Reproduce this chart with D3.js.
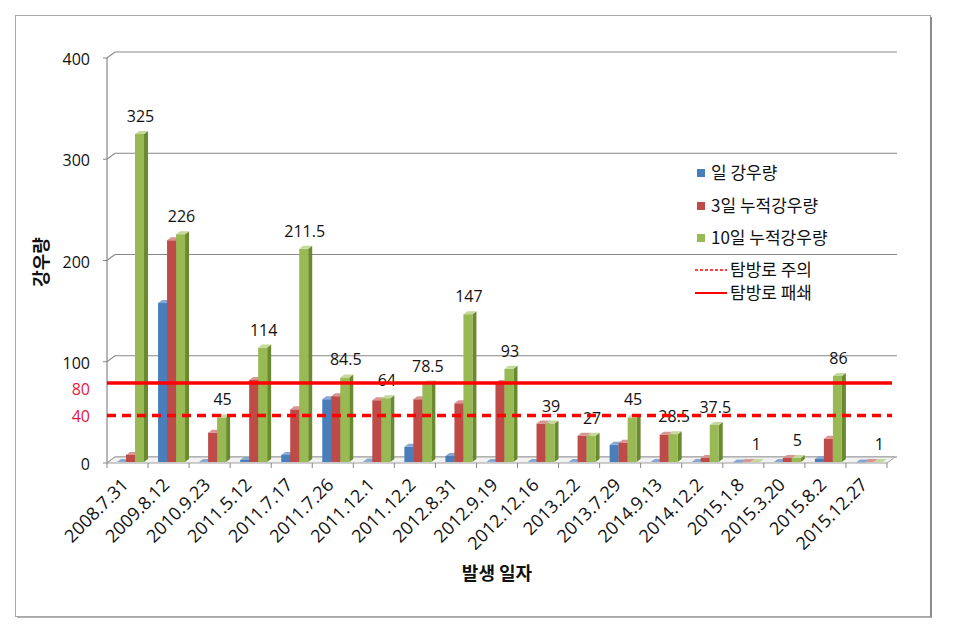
<!DOCTYPE html>
<html><head><meta charset="utf-8">
<script src="https://cdn.jsdelivr.net/npm/d3@7/dist/d3.min.js"></script>
<style>
body{margin:0;background:#fff;}
text{font-family:"Open Sans","Noto Sans CJK KR",sans-serif;}
.kr{font-family:"Noto Sans CJK KR","Open Sans",sans-serif;}
</style></head>
<body><svg id="c" width="972" height="634"></svg>
<script>
const categories = ["2008.7.31","2009.8.12","2010.9.23","2011.5.12","2011.7.17","2011.7.26","2011.12.1","2011.12.2","2012.8.31","2012.9.19","2012.12.16","2013.2.2","2013.7.29","2014.9.13","2014.12.2","2015.1.8","2015.3.20","2015.8.2","2015.12.27"];
const daily = [1,158,1,3,8,63,1.5,16,7,1,1,1,18,1,1,0.5,1,4,0.5];
const cum3  = [8,220,30,82,53,66,62,63,59,79,39,27,20,28,5,1,5,24,1];
const cum10 = [325,226,45,114,211.5,84.5,64,78.5,147,93,39,27,45,28.5,37.5,1,5,86,1];
const seriesNames = ["일 강우량","3일 누적강우량","10일 누적강우량"];
const yTicks = [0,100,200,300,400];
const refLines = [{value:80,name:"탐방로 패쇄",dashed:false},{value:40,name:"탐방로 주의",dashed:true}];
const xTitle = "발생 일자";
const yTitle = "강우량";

const svg = d3.select("#c");
const colors = [
  {front:"#4a7ebb", side:"#2d5a8e", top:"#86a8d3"},
  {front:"#be4b48", side:"#8a302e", top:"#d99593"},
  {front:"#98b954", side:"#6a8a30", top:"#c5d99c"}
];
const L=107,R=887, D={x:8,y:-6};
const x = d3.scaleBand().domain(categories).range([L,R]);
const y = d3.scaleLinear().domain([0,400]).range([463,58]);
const yBack = v => y(v)+D.y;
const inner = d3.scaleBand().domain([0,1,2]).range([10,37]);

svg.append("rect").attr("x",15.5).attr("y",15.5).attr("width",915).attr("height",601)
  .attr("fill","#fff").attr("stroke","#a8a8a8");
svg.append("line").attr("x1",931).attr("x2",931).attr("y1",17).attr("y2",618).attr("stroke","#8c8c8c").attr("stroke-width",2);
svg.append("line").attr("x1",17).attr("x2",932).attr("y1",617.5).attr("y2",617.5).attr("stroke","#b0b0b0").attr("stroke-width",1);

const g = svg.append("g");
yTicks.forEach(t=>{
  g.append("path").attr("d",`M${L-4},${y(t)}L${L},${y(t)}L${L+D.x},${yBack(t)}L${R+D.x+2},${yBack(t)}`)
   .attr("fill","none").attr("stroke","#878787").attr("stroke-width",1.2);
});
g.append("line").attr("x1",L).attr("x2",L).attr("y1",y(400)).attr("y2",y(0)).attr("stroke","#878787").attr("stroke-width",1.2);
g.append("path").attr("d",`M${L},${y(0)}L${R},${y(0)}L${R+D.x},${yBack(0)}L${L+D.x},${yBack(0)}Z`)
  .attr("fill","#f2f2f2").attr("stroke","#a0a0a0").attr("stroke-width",1);
d3.range(categories.length+1).forEach(i=>{
  const xx = L + i*x.bandwidth();
  g.append("line").attr("x1",xx).attr("x2",xx).attr("y1",y(0)).attr("y2",y(0)+5).attr("stroke","#878787");
});

const data=[daily,cum3,cum10];
const bw = inner.bandwidth(), bd={x:4,y:-3};
categories.forEach((c,i)=>{
  data.forEach((arr,s)=>{
    const v=arr[i], x0=x(c)+inner(s), yt=y(v), yb=y(0)-1;
    const col=colors[s];
    const bg=svg.append("g");
    bg.append("path").attr("d",`M${x0+bw},${yt}L${x0+bw+bd.x},${yt+bd.y}L${x0+bw+bd.x},${yb+bd.y}L${x0+bw},${yb}Z`).attr("fill",col.side);
    bg.append("rect").attr("x",x0).attr("y",yt).attr("width",bw).attr("height",Math.max(0,yb-yt)).attr("fill",col.front);
    bg.append("path").attr("d",`M${x0},${yt}L${x0+bw},${yt}L${x0+bw+bd.x},${yt+bd.y}L${x0+bd.x},${yt+bd.y}Z`).attr("fill",col.top);
  });
  svg.append("text").attr("x",x(c)+inner(2)+bw/2+1).attr("y",y(cum10[i])-12)
    .attr("text-anchor","middle").attr("font-size",16).attr("fill","#111").text(cum10[i]);
});

refLines.forEach(r=>{
  const yy = r.dashed ? yBack(r.value)-1 : y(r.value)+1;
  svg.append("line").attr("x1",L).attr("x2",R+5).attr("y1",yy).attr("y2",yy)
    .attr("stroke","#ff0000").attr("stroke-width",3.5)
    .attr("stroke-dasharray",r.dashed?"9,6":null);
  svg.append("text").attr("x",90).attr("y",yy+(r.dashed?6:12)).attr("text-anchor","end")
    .attr("font-size",16).attr("fill","#e5173f").text(r.value);
});

yTicks.forEach(t=>{
  svg.append("text").attr("x",90).attr("y",y(t)+7).attr("text-anchor","end")
    .attr("font-size",16).attr("fill","#111").text(t);
});

categories.forEach(c=>{
  const cx = x(c)+x.bandwidth()/2+2, cy=486;
  svg.append("text").attr("transform",`translate(${cx},${cy}) rotate(-45)`)
    .attr("text-anchor","end").attr("font-size",18).attr("font-weight",500).attr("fill","#111").text(c);
});

svg.append("text").attr("class","kr").attr("x",497).attr("y",580).attr("text-anchor","middle")
  .attr("font-size",18).attr("font-weight","bold").attr("fill","#111").text(xTitle);
svg.append("text").attr("class","kr").attr("transform","translate(48,262) rotate(-90)").attr("text-anchor","middle")
  .attr("font-size",18).attr("font-weight","bold").attr("fill","#111").text(yTitle);

const lg = svg.append("g").attr("class","kr");
const ly=[173,206,238];
seriesNames.forEach((n,i)=>{
  lg.append("rect").attr("x",697).attr("y",ly[i]-4).attr("width",8).attr("height",8).attr("fill",colors[i].front);
  lg.append("text").attr("class","kr").attr("x",711).attr("y",ly[i]+6).attr("font-size",17).attr("fill","#111").text(n);
});
const lineItems=[refLines[1],refLines[0]], lly=[270,293];
lineItems.forEach((r,i)=>{
  lg.append("line").attr("x1",695).attr("x2",727).attr("y1",lly[i]).attr("y2",lly[i]).attr("stroke","#ff0000")
    .attr("stroke-width",r.dashed?1.5:2).attr("stroke-dasharray",r.dashed?"3,2":null);
  lg.append("text").attr("class","kr").attr("x",730).attr("y",lly[i]+6).attr("font-size",17).attr("fill","#111").text(r.name);
});
</script></body></html>
